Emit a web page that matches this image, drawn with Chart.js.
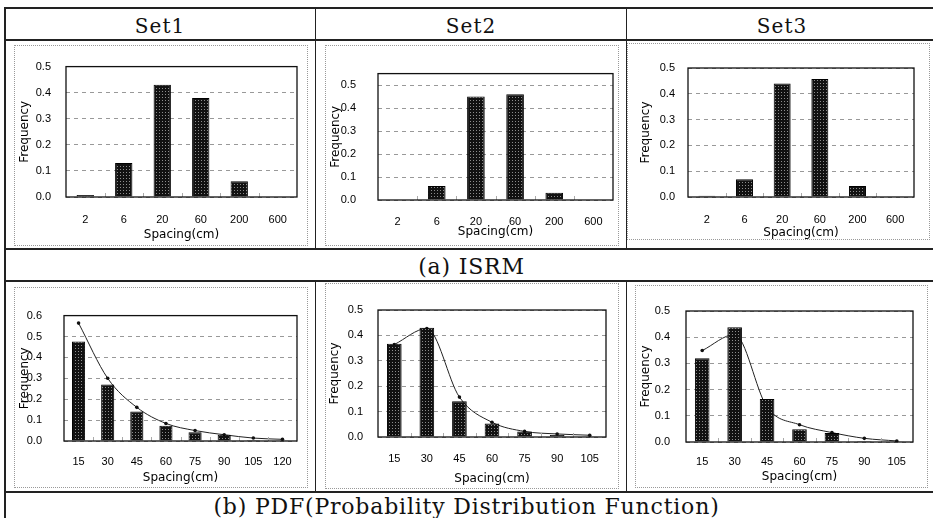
<!DOCTYPE html>
<html>
<head>
<meta charset="utf-8">
<script src="https://cdn.jsdelivr.net/npm/chart.js@4.4.1/dist/chart.umd.min.js"></script>
<style>
body { margin: 0; background: #fff; }
#page { position: relative; width: 933px; height: 518px; overflow: hidden; background: #fff; }
.hl { position: absolute; height: 2px; background: #222; }
.vl { position: absolute; width: 1px; background: #222; }
.txt { position: absolute; text-align: center; font-family: "DejaVu Serif", serif; color: #111; height: 32px; line-height: 32px; white-space: nowrap; }
.box { position: absolute; border: 1px dotted #999; box-sizing: border-box; }
canvas { position: absolute; }
</style>
</head>
<body>
<div id="page">
  <div class="hl" style="left:4px;top:7px;width:940px;"></div>
  <div class="hl" style="left:4px;top:39px;width:940px;"></div>
  <div class="hl" style="left:4px;top:248px;width:940px;"></div>
  <div class="hl" style="left:4px;top:280px;width:940px;"></div>
  <div class="hl" style="left:4px;top:491px;width:940px;"></div>
  <div class="vl" style="left:4px;top:7px;height:520px;width:2px;"></div>
  <div class="vl" style="left:315px;top:7px;height:242px;"></div>
  <div class="vl" style="left:626px;top:7px;height:242px;"></div>
  <div class="vl" style="left:315px;top:281px;height:211px;"></div>
  <div class="vl" style="left:626px;top:281px;height:211px;"></div>

  <div class="txt" style="left:5px;width:310px;top:10px;font-size:20px;letter-spacing:1px;">Set1</div>
  <div class="txt" style="left:316px;width:310px;top:10px;font-size:20px;letter-spacing:1px;">Set2</div>
  <div class="txt" style="left:627px;width:310px;top:10px;font-size:20px;letter-spacing:1px;">Set3</div>
  <div class="txt" style="left:5px;width:933px;top:251px;font-size:22px;letter-spacing:0.8px;">(a) ISRM</div>
  <div class="txt" style="left:0px;width:933px;top:491px;font-size:22px;letter-spacing:0.8px;">(b) PDF(Probability Distribution Function)</div>
</div>
<script>
// values
var isrmLabels = ["2", "6", "20", "60", "200", "600"];
var isrmSet1 = [0.008, 0.13, 0.43, 0.38, 0.06, 0];
var isrmSet2 = [0, 0.061, 0.45, 0.46, 0.032, 0];
var isrmSet3 = [0.005, 0.069, 0.44, 0.457, 0.043, 0.001];

var pdfLabels1 = ["15", "30", "45", "60", "75", "90", "105", "120"];
var pdfLabels23 = ["15", "30", "45", "60", "75", "90", "105"];
var pdfBar1 = [0.476, 0.27, 0.141, 0.073, 0.042, 0.03, 0.005, 0.004];
var pdfFit1 = [0.564, 0.30, 0.161, 0.084, 0.05, 0.03, 0.014, 0.008];
var pdfBar2 = [0.367, 0.43, 0.141, 0.053, 0.022, 0.008, 0.003];
var pdfFit2 = [0.364, 0.427, 0.157, 0.058, 0.022, 0.012, 0.007];
var pdfBar3 = [0.32, 0.438, 0.164, 0.049, 0.034, 0.004, 0.003];
var pdfFit3 = [0.349, 0.41, 0.133, 0.066, 0.036, 0.014, 0.004];

var yMaxes = [0.5, 0.55, 0.5, 0.6, 0.5, 0.5];
var yStep = 0.1;

// box x, y, w, h, y-axis width, pad top, pad right, x-axis height, y tick pad, x tick pad, y title pad, x title pad
var boxes = [
    [14, 45, 294, 201, 52, 18, 11, 49, 15, 16, 4, 4],
    [325, 45, 294, 201, 53, 18, 6, 46, 22, 15, 4, 7],
    [627, 43, 303, 197, 61, 25, 16, 43, 13, 16, 12, 0],
    [14, 287, 294, 201, 50, 24, 11, 47, 22, 14, 4, 3],
    [325, 283, 294, 206, 53, 27, 13, 52, 15, 15, 3, 3],
    [635, 285, 293, 203, 51, 26, 15, 46, 16, 13, 4, 4]
];

function makePattern() {
    var p = document.createElement('canvas');
    p.width = 3;
    p.height = 3;
    var c = p.getContext('2d');
    c.fillStyle = '#111';
    c.fillRect(0, 0, 3, 3);
    c.fillStyle = '#8c8c8c';
    c.fillRect(1, 1, 1, 1);
    return c.createPattern(p, 'repeat');
}

var framePlugin = {
    id: 'frame',
    afterDraw: function (chart) {
        var a = chart.chartArea, c = chart.ctx, xs = chart.scales.x;
        c.save();
        c.strokeStyle = '#aaa';
        c.lineWidth = 1;
        for (var i = 0; i < chart.data.labels.length - 1; i++) {
            var px = Math.round((xs.getPixelForTick(i) + xs.getPixelForTick(i + 1)) / 2) + 0.5;
            c.beginPath();
            c.moveTo(px, a.bottom);
            c.lineTo(px, a.bottom - 4);
            c.stroke();
        }
        c.strokeStyle = '#111';
        c.lineWidth = 1.3;
        c.strokeRect(a.left, a.top, a.right - a.left, a.bottom - a.top);
        c.restore();
    }
};

function makeChart(n, labels, bars, fit) {
    var L = boxes[n];
    var page = document.getElementById('page');
    var box = document.createElement('div');
    box.className = 'box';
    box.style.left = L[0] + 'px';
    box.style.top = L[1] + 'px';
    box.style.width = L[2] + 'px';
    box.style.height = L[3] + 'px';
    page.appendChild(box);
    var cv = document.createElement('canvas');
    cv.width = L[2];
    cv.height = L[3];
    cv.style.left = L[0] + 'px';
    cv.style.top = L[1] + 'px';
    page.appendChild(cv);

    var datasets = [{
        type: 'bar',
        data: bars,
        backgroundColor: makePattern(),
        borderColor: '#000',
        borderWidth: 1,
        barPercentage: 0.9,
        categoryPercentage: 0.5,
        order: 0
    }];
    if (fit) {
        datasets.push({
            type: 'line',
            data: fit,
            borderColor: '#222',
            borderWidth: 1,
            pointRadius: 1.8,
            pointBackgroundColor: '#111',
            pointBorderWidth: 0,
            cubicInterpolationMode: 'monotone',
            fill: false,
            order: 1
        });
    }

    return new Chart(cv, {
        type: 'bar',
        data: { labels: labels, datasets: datasets },
        options: {
            responsive: false,
            animation: false,
            layout: { padding: { top: L[5], right: L[6], left: 0, bottom: 0 } },
            plugins: { legend: { display: false }, tooltip: { enabled: false } },
            scales: {
                x: {
                    grid: { display: false, drawTicks: false },
                    border: { display: false },
                    ticks: { color: '#000', padding: L[9], maxRotation: 0, autoSkip: false,
                        font: { family: 'Liberation Sans', size: 11 } },
                    title: { display: true, text: 'Spacing(cm)', color: '#000',
                        font: { family: 'DejaVu Sans', size: 12 }, padding: { top: 0, bottom: L[11] } },
                    afterFit: function (s) { s.height = L[7]; }
                },
                y: {
                    min: 0,
                    max: yMaxes[n],
                    grid: { color: '#999', drawTicks: false },
                    border: { display: false, dash: [4, 4] },
                    ticks: { color: '#000', padding: L[8],
                        font: { family: 'Liberation Sans', size: 11 },
                        callback: function (v) { return v.toFixed(1); } },
                    afterBuildTicks: function (s) {
                        var t = [];
                        for (var k = 0; k * yStep <= yMaxes[n] + 1e-9; k++) {
                            t.push({ value: Math.round(k * yStep * 10) / 10 });
                        }
                        s.ticks = t;
                    },
                    title: { display: true, text: 'Frequency', color: '#000',
                        font: { family: 'DejaVu Sans', size: 12 }, padding: { top: L[10], bottom: 0 } },
                    afterFit: function (s) { s.width = L[4]; }
                }
            }
        },
        plugins: [framePlugin]
    });
}

makeChart(0, isrmLabels, isrmSet1, null);
makeChart(1, isrmLabels, isrmSet2, null);
makeChart(2, isrmLabels, isrmSet3, null);
makeChart(3, pdfLabels1, pdfBar1, pdfFit1);
makeChart(4, pdfLabels23, pdfBar2, pdfFit2);
makeChart(5, pdfLabels23, pdfBar3, pdfFit3);
</script>
</body>
</html>
